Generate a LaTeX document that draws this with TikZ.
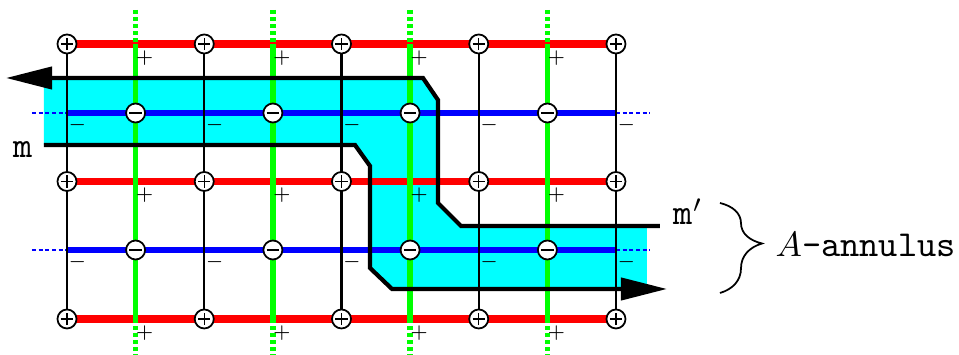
\documentclass[tikz,border=0pt]{standalone}
\usetikzlibrary{arrows.meta,decorations.pathreplacing}
\definecolor{gr}{RGB}{0,255,0}
\definecolor{bl}{RGB}{0,0,255}
\definecolor{rd}{RGB}{255,0,0}
\definecolor{cy}{RGB}{0,255,255}
\begin{document}
\begin{tikzpicture}[x=0.01cm,y=-0.01cm,
  redln/.style={line width=2pt, rd},
  greenln/.style={line width=1.6pt, gr},
  greendot/.style={line width=1.6pt, gr, dash pattern=on 1.1pt off 0.9pt},
  blueln/.style={line width=1.7pt, bl},
  bluedash/.style={line width=0.45pt, bl, dash pattern=on 1.1pt off 0.8pt},
  gridln/.style={line width=0.6pt, black},
  pathln/.style={line width=1.2pt, black},
  sgn/.style={inner sep=0, font=\fontsize{4}{5}\selectfont},
  lbl/.style={inner sep=0, font=\fontsize{10.4}{12}\selectfont},
  circbase/.style={circle, draw, line width=0.5pt, fill=white, minimum size=0.19cm, inner sep=0},
  pc/.style={circbase, path picture={
    \draw[line width=0.4pt] ([xshift=-0.062cm]path picture bounding box.center) -- ([xshift=0.062cm]path picture bounding box.center)
      ([yshift=-0.062cm]path picture bounding box.center) -- ([yshift=0.062cm]path picture bounding box.center);}},
  mc/.style={circbase, path picture={
    \draw[line width=0.4pt] ([xshift=-0.062cm]path picture bounding box.center) -- ([xshift=0.062cm]path picture bounding box.center);}},
  arr/.style={-{Triangle[length=0.46cm,width=0.22cm]}}
]
\useasboundingbox (0,0) rectangle (959,355);
% coordinates
\foreach \i/\x in {1/67,2/204.25,3/341.5,4/478.75,5/616}{
  \foreach \j/\y in {1/44,2/181.5,3/319}{\coordinate (P\i\j) at (\x,\y);}}
\foreach \i/\x in {1/135.6,2/272.9,3/410.1,4/547.4}{
  \coordinate (G\i t) at (\x,10);
  \coordinate (G\i a) at (\x,44);
  \coordinate (G\i b) at (\x,319);
  \coordinate (G\i e) at (\x,356);
  \foreach \j/\y in {1/113,2/250}{\coordinate (M\i\j) at (\x,\y);}}
\foreach \j/\y in {1/113,2/250}{
  \coordinate (B\j l) at (32,\y);
  \coordinate (B\j a) at (67,\y);
  \coordinate (B\j b) at (616,\y);
  \coordinate (B\j r) at (650,\y);}
\coordinate (T0) at (660,226);
\coordinate (T1) at (461,226);
\coordinate (T2) at (438,203);
\coordinate (T3) at (438,100);
\coordinate (T4) at (423,78);
\coordinate (T5) at (6,78);
\coordinate (S0) at (44,145);
\coordinate (S1) at (355,145);
\coordinate (S2) at (370,166);
\coordinate (S3) at (370,268);
\coordinate (S4) at (392,289);
\coordinate (S5) at (667,289);
\coordinate (C1) at (44,78);
\coordinate (C2) at (647,226);
\coordinate (C3) at (647,289);
% annulus
\fill[cy] (C1) -- (T4) -- (T3) -- (T2) -- (T1) -- (C2) -- (C3) -- (S4) -- (S3) -- (S2) -- (S1) -- (S0) -- cycle;
% red rows
\foreach \j in {1,2,3}{\draw[redln] (P1\j) -- (P5\j);}
% green columns
\foreach \i in {1,2,3,4}{
  \draw[greenln] (G\i a) -- (G\i b);
  \draw[greendot] (G\i t) -- (G\i a);
  \draw[greendot] (G\i b) -- (G\i e);}
% blue rows
\foreach \j in {1,2}{
  \draw[blueln] (B\j a) -- (B\j b);
  \draw[bluedash] (B\j l) -- (B\j a);
  \draw[bluedash] (B\j b) -- (B\j r);}
% black columns
\foreach \i in {1,2,3,4,5}{\draw[gridln] (P\i1) -- (P\i3);}
% circles
\foreach \i in {1,2,3,4,5}{\foreach \j in {1,2,3}{\node[pc] (p\i\j) at (P\i\j) {};}}
\foreach \i in {1,2,3,4}{\foreach \j in {1,2}{\node[mc] (m\i\j) at (M\i\j) {};}}
% small signs
\foreach \i in {1,2,3,4}{\foreach \j in {1,2,3}{
  \node[sgn] (pl\i\j) at ([xshift=0.09cm,yshift=-0.14cm]G\i a |- P1\j) {$+$};}}
\foreach \i in {1,2,3,4,5}{\foreach \j in {1,2}{
  \node[sgn] (mi\i\j) at ([xshift=0.105cm,yshift=-0.125cm]P\i1 |- B\j a) {$-$};}}
% thick paths
\draw[pathln, arr] (T0) -- (T1) -- (T2) -- (T3) -- (T4) -- (T5);
\draw[pathln, arr] (S0) -- (S1) -- (S2) -- (S3) -- (S4) -- (S5);
% labels
\node[lbl] (lm) at (23,150) {\texttt{m}};
\node[lbl, anchor=base west] (lmp) at (673,225) {\texttt{m}$'$};
\coordinate (BR1) at (720,203);
\coordinate (BR2) at (720,293);
\draw[line width=0.5pt, decorate, decoration={brace, amplitude=0.42cm, aspect=0.45}] (BR1) -- (BR2);
\node[lbl, anchor=base west] (ann) at (775,257) {$A$\texttt{-annulus}};
\end{tikzpicture}
\end{document}
